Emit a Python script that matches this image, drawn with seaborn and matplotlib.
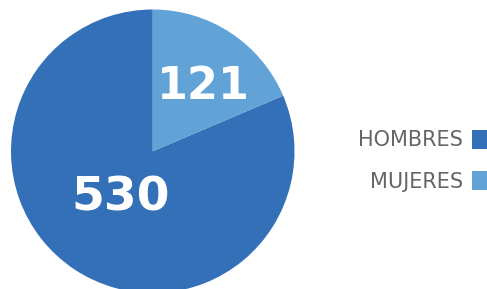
import matplotlib
matplotlib.use("Agg")
import matplotlib.pyplot as plt
import seaborn as sns

categories = ["HOMBRES", "MUJERES"]
values = [530, 121]
colors = ["#3370B7", "#61A2D7"]

sns.set_theme(style="white")
plt.rcParams['font.family'] = ['DejaVu Sans']
palette = sns.color_palette(colors)

fig = plt.figure(figsize=(4.87, 2.89), dpi=100)
ax = fig.add_axes([11 / 487, -4 / 289, 283.5 / 487, 283.5 / 289])

wedges, _ = ax.pie(values, colors=palette, startangle=90, counterclock=True,
                   radius=1, wedgeprops={'linewidth': 0})
ax.set_xlim(-1, 1)
ax.set_ylim(-1, 1)
ax.set_aspect('equal')
ax.axis('off')

# value labels
ax.text(-0.23, -0.33, str(values[0]), color='white', fontsize=34,
        fontweight='bold', ha='center', va='center')
ax.text(0.36, 0.46, str(values[1]), color='white', fontsize=32,
        fontweight='bold', ha='center', va='center')

leg = fig.legend(wedges, categories, loc='upper right',
                 bbox_to_anchor=(493 / 487, 1 - 130 / 289),
                 markerfirst=False, frameon=False, fontsize=15,
                 handlelength=1.0, handleheight=1.0, handletextpad=0.45,
                 labelspacing=1.0, borderaxespad=0, borderpad=0)
for t in leg.get_texts():
    t.set_color('#646569')

fig.savefig('out.png', dpi=100)
